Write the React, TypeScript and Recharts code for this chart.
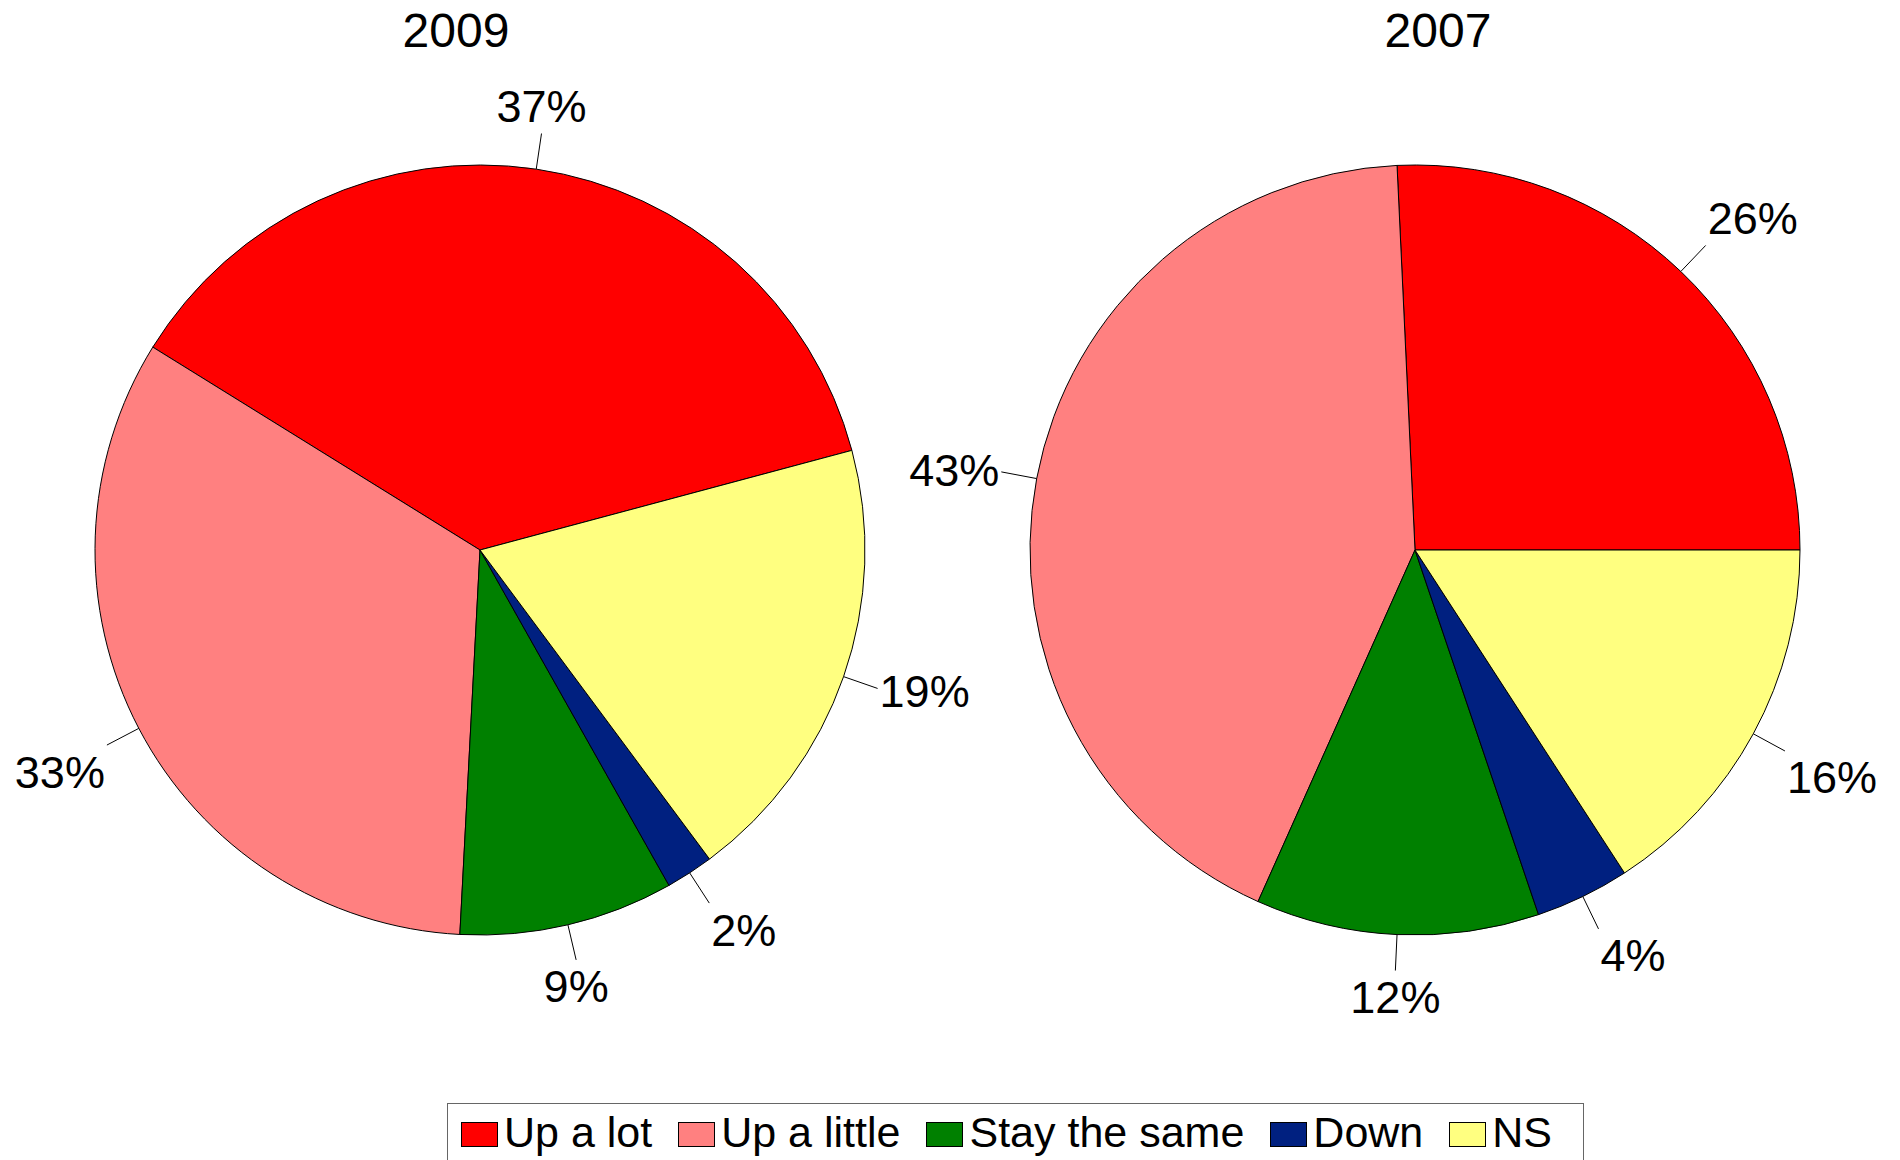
import { PieChart, Pie, Cell, Legend } from "recharts";

const categories = ["Up a lot", "Up a little", "Stay the same", "Down", "NS"];
const colors = ["#FF0000", "#FF8080", "#008000", "#002080", "#FFFF80"];
const values2009 = [37, 33, 9, 2, 19];
const values2007 = [26, 43, 12, 4, 16];
const years = ["2009", "2007"];

const data2009 = categories.map((name, i) => ({ name, value: values2009[i] }));
const data2007 = categories.map((name, i) => ({ name, value: values2007[i] }));

const FONT = '"Liberation Sans", Arial, Helvetica, sans-serif';
const RAD = Math.PI / 180;

// label with a short radial leader, text placed like the old office charts
const renderLabel = (props: any) => {
  const { cx, cy, midAngle, outerRadius, value } = props;
  const cos = Math.cos(midAngle * RAD);
  const up = Math.sin(midAngle * RAD);
  const sx = cx + outerRadius * cos;
  const sy = cy - outerRadius * up;
  const ex = cx + (outerRadius + 36) * cos;
  const ey = cy - (outerRadius + 36) * up;

  let anchor: "start" | "end" | "middle" = "middle";
  let tx = ex;
  if (cos > 0.3) {
    anchor = "start";
    tx = ex + 2;
  } else if (cos < -0.3) {
    anchor = "end";
    tx = ex - 2;
  }
  let ty = ey - up * 10;
  if (up > 0.4) ty = ey - 27;
  else if (up < -0.4) ty = ey + 27;

  return (
    <g>
      <line x1={sx} y1={sy} x2={ex} y2={ey} stroke="#000" strokeWidth={1} />
      <text
        x={tx}
        y={ty}
        textAnchor={anchor}
        dominantBaseline="central"
        fontSize={45}
        fontFamily={FONT}
        fill="#000"
      >
        {value}%
      </text>
    </g>
  );
};

const renderLegend = () => (
  <div
    style={{
      boxSizing: "border-box",
      width: 1137,
      height: 70,
      border: "1px solid #666",
      background: "#fff",
      display: "flex",
      alignItems: "flex-start",
      paddingTop: 18,
      paddingLeft: 13,
      fontFamily: FONT,
      fontSize: 43,
      color: "#000",
    }}
  >
    {categories.map((c, i) => (
      <div key={c} style={{ display: "flex", alignItems: "center", marginRight: 26 }}>
        <div
          style={{
            boxSizing: "border-box",
            width: 37,
            height: 25,
            background: colors[i],
            border: "1px solid #000",
            marginRight: 6,
          }}
        />
        <span style={{ lineHeight: "25px", position: "relative", top: -2, whiteSpace: "nowrap" }}>
          {c}
        </span>
      </div>
    ))}
  </div>
);

export default function App() {
  return (
    <div
      style={{
        position: "absolute",
        left: 0,
        top: 0,
        width: 1900,
        height: 1160,
        overflow: "hidden",
        background: "#fff",
      }}
    >
      <PieChart width={1900} height={1160} margin={{ top: 0, right: 0, bottom: 0, left: 0 }}>
        <text x={456} y={47} textAnchor="middle" fontSize={48} fontFamily={FONT} fill="#000">
          {years[0]}
        </text>
        <text x={1438} y={47} textAnchor="middle" fontSize={48} fontFamily={FONT} fill="#000">
          {years[1]}
        </text>
        <Pie
          data={data2009}
          dataKey="value"
          nameKey="name"
          cx={480}
          cy={550}
          outerRadius={385}
          startAngle={15}
          endAngle={375}
          stroke="#000"
          strokeWidth={1}
          label={renderLabel}
          labelLine={false}
          isAnimationActive={false}
        >
          {data2009.map((d, i) => (
            <Cell key={d.name} fill={colors[i]} />
          ))}
        </Pie>
        <Pie
          data={data2007}
          dataKey="value"
          nameKey="name"
          cx={1415}
          cy={550}
          outerRadius={385}
          startAngle={0}
          endAngle={360}
          stroke="#000"
          strokeWidth={1}
          label={renderLabel}
          labelLine={false}
          isAnimationActive={false}
        >
          {data2007.map((d, i) => (
            <Cell key={d.name} fill={colors[i]} />
          ))}
        </Pie>
        <Legend
          content={renderLegend}
          wrapperStyle={{ position: "absolute", left: 447, top: 1103, width: 1137, height: 70, bottom: "auto" }}
        />
      </PieChart>
    </div>
  );
}
